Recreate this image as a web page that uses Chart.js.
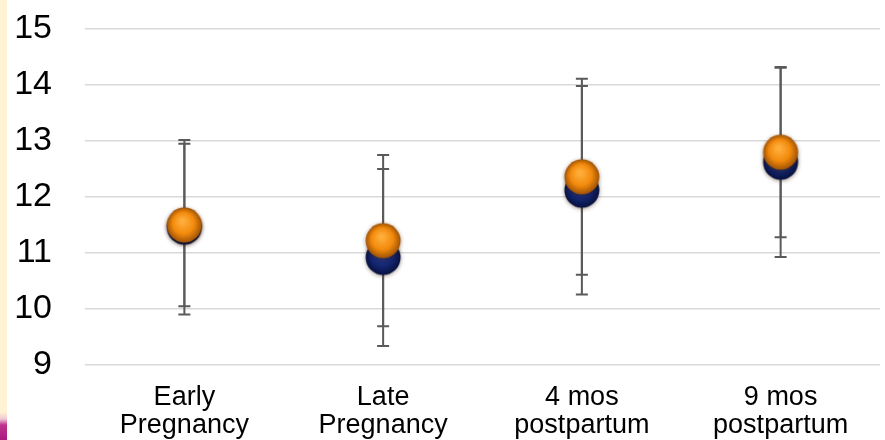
<!DOCTYPE html>
<html lang="en">
<head>
    <meta charset="UTF-8">
    <title>Pregnancy and Postpartum Means</title>
    <script src="https://cdn.jsdelivr.net/npm/chart.js"></script>
    <style>
        html, body {
            margin: 0;
            padding: 0;
            background-color: #ffffff;
            font-family: "Liberation Sans", Arial, sans-serif;
        }
        .wrap {
            position: relative;
            width: 885px;
            height: 440px;
        }
        .strip {
            position: absolute;
            left: 0;
            top: 0;
            width: 7px;
            height: 440px;
            background: linear-gradient(to bottom, #fff3d3 0px, #fff3d3 412px, #f0c8d4 419px, #c0328f 425px, #a8197f 440px);
        }
    </style>
</head>
<body>
<div class="wrap">
    <canvas id="meansChart" width="885" height="440"></canvas>
    <div class="strip"></div>
</div>

<script>
    // data
    const categories = [['Early', 'Pregnancy'], ['Late', 'Pregnancy'], ['4 mos', 'postpartum'], ['9 mos', 'postpartum']];
    const navyMeans = [11.46, 10.92, 12.12, 12.62];
    const navyErrors = [1.56, 1.58, 1.86, 1.69];
    const orangeMeans = [11.50, 11.22, 12.36, 12.80];
    const orangeErrors = [1.45, 1.53, 1.75, 1.52];
    const yTicks = [9, 10, 11, 12, 13, 14, 15];

    // shaded ball used as the point marker
    function makeBall(light, mid, dark) {
        const c = document.createElement('canvas');
        c.width = 46;
        c.height = 46;
        const g = c.getContext('2d');
        g.shadowColor = 'rgba(60, 30, 0, 0.45)';
        g.shadowBlur = 4;
        g.shadowOffsetY = 1;
        const grad = g.createRadialGradient(21, 19, 2, 23, 23, 18);
        grad.addColorStop(0, light);
        grad.addColorStop(0.55, mid);
        grad.addColorStop(1, dark);
        g.fillStyle = grad;
        g.beginPath();
        g.arc(23, 23, 17.5, 0, Math.PI * 2);
        g.fill();
        return c;
    }

    const orangeBall = makeBall('#ffad3a', '#f28a0c', '#9a4f05');
    const navyBall = makeBall('#24398c', '#142670', '#060f3a');

    const errorBars = {
        id: 'errorBars',
        beforeDatasetsDraw(chart) {
            const ctx = chart.ctx;
            const y = chart.scales.y;
            ctx.save();
            ctx.strokeStyle = '#5a5a5a';
            ctx.lineWidth = 2;
            chart.data.datasets.forEach((ds, i) => {
                const meta = chart.getDatasetMeta(i);
                meta.data.forEach((pt, j) => {
                    const top = y.getPixelForValue(ds.data[j] + ds.errors[j]);
                    const bottom = y.getPixelForValue(ds.data[j] - ds.errors[j]);
                    ctx.beginPath();
                    ctx.moveTo(pt.x, top);
                    ctx.lineTo(pt.x, bottom);
                    ctx.moveTo(pt.x - 6, top);
                    ctx.lineTo(pt.x + 6, top);
                    ctx.moveTo(pt.x - 6, bottom);
                    ctx.lineTo(pt.x + 6, bottom);
                    ctx.stroke();
                });
            });
            ctx.restore();
        }
    };

    new Chart(document.getElementById('meansChart'), {
        type: 'line',
        data: {
            labels: categories,
            datasets: [
                {
                    label: 'Series 1',
                    data: navyMeans,
                    errors: navyErrors,
                    showLine: false,
                    pointStyle: navyBall,
                    order: 1
                },
                {
                    label: 'Series 2',
                    data: orangeMeans,
                    errors: orangeErrors,
                    showLine: false,
                    pointStyle: orangeBall,
                    order: 0
                }
            ]
        },
        options: {
            responsive: false,
            animation: false,
            events: [],
            layout: {
                padding: { top: 29, left: 0, right: 0, bottom: 0 }
            },
            plugins: {
                legend: { display: false },
                tooltip: { enabled: false }
            },
            scales: {
                x: {
                    offset: true,
                    grid: { display: false },
                    border: { display: false },
                    afterFit(scale) { scale.height = 75; },
                    ticks: {
                        color: '#000000',
                        padding: 10,
                        maxRotation: 0,
                        autoSkip: false,
                        font: { family: '"Liberation Sans", Arial, sans-serif', size: 27, lineHeight: 1.05 }
                    }
                },
                y: {
                    min: 9,
                    max: 15,
                    afterFit(scale) { scale.width = 85; },
                    afterBuildTicks(scale) { scale.ticks = yTicks.map(v => ({ value: v })); },
                    border: { display: false },
                    grid: {
                        color: '#d9d9d9',
                        lineWidth: 1.5,
                        drawTicks: true,
                        tickLength: 33,
                        tickColor: 'rgba(0,0,0,0)'
                    },
                    ticks: {
                        color: '#000000',
                        padding: 0,
                        font: { family: '"Liberation Sans", Arial, sans-serif', size: 34 }
                    }
                }
            }
        },
        plugins: [errorBars]
    });
</script>
</body>
</html>
